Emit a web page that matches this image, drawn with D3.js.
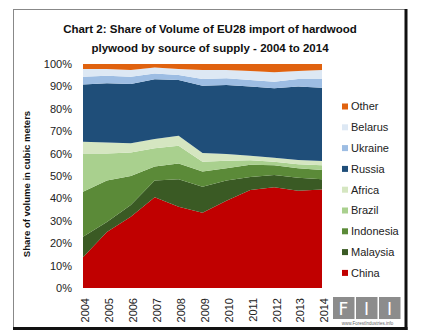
<!DOCTYPE html>
<html>
<head>
<meta charset="utf-8">
<script src="https://cdn.jsdelivr.net/npm/d3@7/dist/d3.min.js"></script>
<style>
html,body{margin:0;padding:0;background:#fff;}
svg{display:block;font-family:"Liberation Sans",Arial,sans-serif;}
</style>
</head>
<body>
<svg id="chart" width="423" height="336"></svg>
<script>
// ---- data (share of volume, %) ----
const years = [2004,2005,2006,2007,2008,2009,2010,2011,2012,2013,2014];
const china     = [13.7,25.0,31.8,40.5,36.3,33.6,39.0,43.8,45.0,43.4,44.0];
const malaysia  = [9.2,4.5,5.2,7.5,12.2,11.6,9.0,5.7,5.4,5.8,4.5];
const indonesia = [20.1,18.5,13.0,6.2,7.1,6.8,5.5,5.5,4.4,4.3,4.2];
const brazil    = [17.1,12.0,10.5,8.2,7.9,4.4,3.3,2.0,1.6,1.8,2.1];
const africa    = [5.2,5.0,4.1,4.1,4.5,3.9,3.0,2.0,1.8,1.8,1.9];
const russia    = [25.6,26.4,26.5,26.7,24.9,30.0,30.8,30.9,31.0,32.8,32.7];
const ukraine   = [3.4,3.4,3.2,2.6,2.2,3.0,3.0,3.0,2.9,3.4,3.9];
const belarus   = [3.5,3.0,3.0,2.6,2.7,4.0,3.7,4.0,4.2,3.6,4.0];
const other     = [2.2,2.2,2.7,1.6,2.2,2.7,2.7,3.1,3.7,3.1,2.7];
const seriesNames = ["China","Malaysia","Indonesia","Brazil","Africa","Russia","Ukraine","Belarus","Other"];
const seriesValues = [china,malaysia,indonesia,brazil,africa,russia,ukraine,belarus,other];
const seriesColors = ["#c00000","#3a5a24","#5b8a38","#a9d08e","#d5e6c1","#1f4e79","#9dbde3","#dde8f4","#e0620f"];
const yTicks = [0,10,20,30,40,50,60,70,80,90,100];
const titleLines = ["Chart 2: Share of Volume of EU28 import of hardwood","plywood by source of supply - 2004 to 2014"];
const yAxisTitle = "Share of volume in cubic meters";

// ---- build table ----
const table = years.map((yr,i)=>{
  const row = {year:yr};
  seriesNames.forEach((n,k)=>row[n]=seriesValues[k][i]);
  return row;
});

const svg = d3.select("#chart");

// frame
svg.append("rect").attr("x",13.5).attr("y",9.5).attr("width",392).attr("height",318)
  .attr("fill","#fff").attr("stroke","#888").attr("stroke-width",1);
svg.append("line").attr("x1",406).attr("x2",406).attr("y1",9).attr("y2",330)
  .attr("stroke","#111").attr("stroke-width",3);
svg.append("line").attr("x1",13).attr("x2",407.5).attr("y1",328.5).attr("y2",328.5)
  .attr("stroke","#111").attr("stroke-width",3);

// title
svg.append("g").selectAll("text").data(titleLines).join("text")
  .attr("x",210).attr("y",(d,i)=>33+i*19)
  .attr("text-anchor","middle").attr("font-weight","bold").attr("font-size",11.5)
  .attr("fill","#111").text(d=>d);

const x = d3.scalePoint().domain(years).range([83,322]);
const y = d3.scaleLinear().domain([0,100]).range([288,64]);

const stack = d3.stack().keys(seriesNames);
const layers = stack(table);
const area = d3.area().x(d=>x(d.data.year)).y0(d=>y(d[0])).y1(d=>y(d[1]));

svg.append("g").selectAll("path").data(layers).join("path")
  .attr("d",area).attr("fill",(d,i)=>seriesColors[i]);

// y axis
const yAxis = svg.append("g").attr("transform","translate(83,0)")
  .call(d3.axisLeft(y).tickValues(yTicks).tickFormat(d=>d+"%").tickSize(0).tickPadding(11));
yAxis.select(".domain").remove();
yAxis.selectAll("text").attr("font-size",11).attr("fill","#222").attr("font-family","Liberation Sans, Arial, sans-serif");

// x axis
const xAxis = svg.append("g").attr("transform","translate(0,288)")
  .call(d3.axisBottom(x).tickSize(0).tickPadding(0));
xAxis.select(".domain").remove();
xAxis.selectAll("text").attr("font-size",11).attr("fill","#222")
  .attr("font-family","Liberation Sans, Arial, sans-serif")
  .attr("transform","rotate(-90)").attr("text-anchor","end")
  .attr("x",-10).attr("y",2).attr("dy","0.35em");

// y axis title
svg.append("text").attr("transform","translate(30,184) rotate(-90)")
  .attr("text-anchor","middle").attr("font-weight","bold").attr("font-size",9.5)
  .attr("fill","#111").text(yAxisTitle);

// legend (top: Other ... bottom: China)
const legendOrder = seriesNames.map((n,i)=>({name:n,color:seriesColors[i]})).reverse();
const lg = svg.append("g").selectAll("g").data(legendOrder).join("g")
  .attr("transform",(d,i)=>`translate(342,${106.5+i*20.8})`);
lg.append("rect").attr("x",0).attr("y",-3).attr("width",6).attr("height",6).attr("fill",d=>d.color);
lg.append("text").attr("x",9).attr("y",0).attr("dy","0.35em").attr("font-size",11)
  .attr("fill","#222").text(d=>d.name);

// logo
const logo = svg.append("g");
const letters = ["F","I","I"];
logo.selectAll("rect").data(letters).join("rect")
  .attr("x",(d,i)=>333+i*23).attr("y",297).attr("width",21.5).attr("height",22).attr("fill","#8c8c8c");
logo.selectAll("text.l").data(letters).join("text").attr("class","l")
  .attr("x",(d,i)=>343.5+i*23).attr("y",315).attr("text-anchor","middle")
  .attr("font-size",17).attr("fill","#fff").attr("font-family","DejaVu Sans, sans-serif").text(d=>d);
logo.append("text").attr("x",367.5).attr("y",324.5).attr("text-anchor","middle")
  .attr("font-size",4.5).attr("fill","#666").text("www.ForestIndustries.info");
</script>
</body>
</html>
